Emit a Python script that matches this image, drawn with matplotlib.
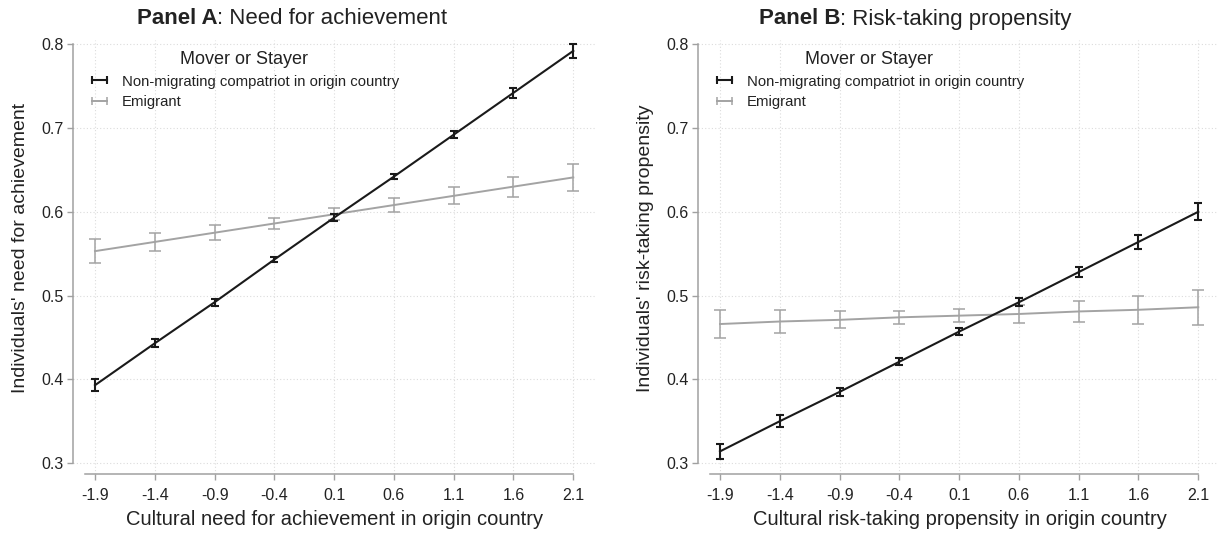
import matplotlib
matplotlib.use("Agg")
import matplotlib.pyplot as plt
import numpy as np
from matplotlib.lines import Line2D

plt.rcParams["font.family"] = ["Liberation Sans", "DejaVu Sans"]

# Margin values at standardised origin-country culture
x_vals = [-1.9, -1.4, -0.9, -0.4, 0.1, 0.6, 1.1, 1.6, 2.1]
x_labels = ["-1.9", "-1.4", "-0.9", "-0.4", "0.1", "0.6", "1.1", "1.6", "2.1"]
y_ticks = [0.3, 0.4, 0.5, 0.6, 0.7, 0.8]

# Panel A: need for achievement
ach_stayer = [0.393, 0.443, 0.492, 0.543, 0.593, 0.642, 0.692, 0.742, 0.792]
ach_stayer_ci = [0.007, 0.005, 0.004, 0.003, 0.004, 0.003, 0.004, 0.006, 0.008]
ach_mover = [0.553, 0.564, 0.575, 0.586, 0.597, 0.608, 0.619, 0.630, 0.641]
ach_mover_ci = [0.014, 0.011, 0.009, 0.007, 0.007, 0.008, 0.010, 0.012, 0.016]

# Panel B: risk-taking propensity
risk_stayer = [0.314, 0.350, 0.385, 0.421, 0.457, 0.492, 0.528, 0.564, 0.600]
risk_stayer_ci = [0.009, 0.007, 0.005, 0.004, 0.004, 0.005, 0.006, 0.008, 0.010]
risk_mover = [0.466, 0.469, 0.471, 0.474, 0.476, 0.478, 0.481, 0.483, 0.486]
risk_mover_ci = [0.017, 0.014, 0.010, 0.008, 0.008, 0.011, 0.013, 0.017, 0.021]

legend_title = "Mover or Stayer"
label_stayer = "Non-migrating compatriot in origin country"
label_mover = "Emigrant"

BLACK = "#1a1a1a"
GREY = "#a3a3a3"
AXIS = "#a0a0a0"
TEXT = "#222222"

W, H = 1217, 533
fig = plt.figure(figsize=(W / 100, H / 100), dpi=100)


def px_rect(left, right, top, bottom):
    return [left / W, 1 - bottom / H, (right - left) / W, (bottom - top) / H]


def draw_panel(rect, stayer, stayer_ci, mover, mover_ci, ylabel, xlabel, legend_x):
    ax = fig.add_axes(rect)
    ax.set_xlim(-2.084, 2.29)
    ax.set_ylim(0.287, 0.805)

    for gx in x_vals:
        ax.axvline(gx, color="#dcdcdc", lw=0.8, ls=(0, (1, 2)), zorder=0)
    for gy in y_ticks:
        ax.axhline(gy, color="#dcdcdc", lw=0.8, ls=(0, (1, 2)), zorder=0)

    ax.errorbar(x_vals, mover, yerr=mover_ci, color=GREY, lw=1.4,
                elinewidth=1.1, capsize=4, capthick=1.1, zorder=2)
    ax.errorbar(x_vals, stayer, yerr=stayer_ci, color=BLACK, lw=1.5,
                elinewidth=1.5, capsize=3, capthick=1.5, zorder=3)

    for side in ("top", "right"):
        ax.spines[side].set_visible(False)
    ax.spines["left"].set_bounds(0.3, 0.8)
    ax.spines["bottom"].set_bounds(-1.98, 2.1)
    for side in ("left", "bottom"):
        ax.spines[side].set_color(AXIS)
        ax.spines[side].set_linewidth(1.1)

    ax.set_xticks(x_vals)
    ax.set_xticklabels(x_labels)
    ax.set_yticks(y_ticks)
    ax.set_yticklabels([f"{v:.1f}" for v in y_ticks])
    ax.tick_params(colors=AXIS, labelcolor=TEXT, labelsize=11.5, length=4, width=1)
    ax.tick_params(axis="x", pad=6)
    ax.tick_params(axis="y", pad=3)

    ax.set_xlabel(xlabel, fontsize=14.5, color=TEXT, labelpad=5)
    ax.set_ylabel(ylabel, fontsize=14, color=TEXT)
    ax.yaxis.set_label_coords(-0.084, 0.521)

    handles = [
        Line2D([0, 1], [0, 0], color=BLACK, lw=1.5, marker="|", markersize=6, mew=1.5),
        Line2D([0, 1], [0, 0], color=GREY, lw=1.4, marker="|", markersize=6, mew=1.1),
    ]
    leg = ax.legend(handles, [label_stayer, label_mover], title=legend_title,
                    loc="upper left", bbox_to_anchor=(legend_x / W, 1 - 51 / H),
                    bbox_transform=fig.transFigure, frameon=False, numpoints=2,
                    fontsize=10.7, title_fontsize=13, borderpad=0, borderaxespad=0,
                    handlelength=1.6, handletextpad=0.7, labelspacing=0.45)
    for t in leg.get_texts():
        t.set_color(TEXT)
    leg.get_title().set_color(TEXT)
    return ax


def panel_title(center_x, bold_part, rest):
    renderer = fig.canvas.get_renderer()
    y = 1 - 19 / H
    t1 = fig.text(0, y, bold_part, fontsize=16, fontweight="bold", color=TEXT,
                  ha="left", va="center")
    t2 = fig.text(0, y, rest, fontsize=16, color=TEXT, ha="left", va="center")
    w1 = t1.get_window_extent(renderer).width
    w2 = t2.get_window_extent(renderer).width
    left = center_x - (w1 + w2) / 2
    t1.set_x(left / W)
    t2.set_x((left + w1) / W)


draw_panel(px_rect(73, 596, 40, 474), ach_stayer, ach_stayer_ci, ach_mover, ach_mover_ci,
           "Individuals' need for achievement",
           "Cultural need for achievement in origin country", 88)
draw_panel(px_rect(698, 1221, 40, 474), risk_stayer, risk_stayer_ci, risk_mover, risk_mover_ci,
           "Individuals' risk-taking propensity",
           "Cultural risk-taking propensity in origin country", 713)

panel_title(292, "Panel A", ": Need for achievement")
panel_title(915, "Panel B", ": Risk-taking propensity")

fig.savefig("out.png", dpi=100)
